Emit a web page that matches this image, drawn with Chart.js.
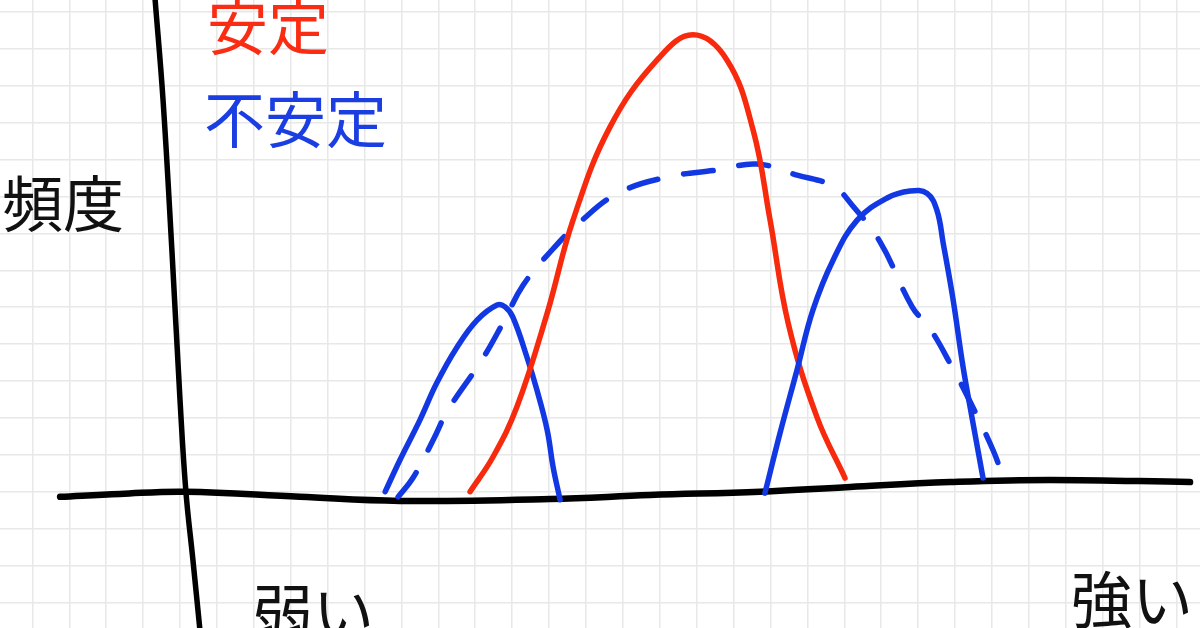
<!DOCTYPE html>
<html>
<head>
<meta charset="utf-8">
<script src="https://cdn.jsdelivr.net/npm/chart.js@4"></script>
<style>
  html, body { margin: 0; padding: 0; background: #fff; }
  #wrap { position: relative; width: 1200px; height: 628px; overflow: hidden; }
  .lbl {
    position: absolute;
    font-family: "Noto Sans CJK JP", "Noto Sans", sans-serif;
    font-size: 61px;
    line-height: 1;
    white-space: nowrap;
  }
</style>
</head>
<body>
<div id="wrap">
  <canvas id="chart"></canvas>
  <div class="lbl" style="left:207px; top:-7px; color:#fa2d14;">安定</div>
  <div class="lbl" style="left:204px; top:86px; color:#1a3ee2;">不安定</div>
  <div class="lbl" style="left:2px; top:170px; color:#111;">頻度</div>
  <div class="lbl" style="left:252px; top:579px; color:#111;">弱い</div>
  <div class="lbl" style="left:1071px; top:566px; color:#111;">強い</div>
</div>
<script>
// all values in grid squares, origin where the two hand-drawn axes cross

// red curve: 安定
const stableX = [7.86, 8.48, 9.13, 9.95, 10.65, 11.65, 12.93, 13.90, 14.82, 15.53, 15.99, 16.48, 17.26, 18.02];
const stableY = [0, 0.94, 2.30, 4.84, 7.36, 9.88, 11.70, 12.38, 11.70, 9.80, 7.36, 4.57, 2.02, 0.37];

// blue solid, left hump: 不安定
const weakX = [5.56, 5.96, 6.50, 6.96, 7.51, 8.05, 8.59, 8.81, 9.02, 9.40, 9.67, 9.95, 10.11, 10.30];
const weakY = [0, 0.86, 1.94, 2.95, 3.92, 4.65, 5.06, 5.01, 4.73, 3.65, 2.76, 1.67, 0.67, -0.22];

// blue solid, right hump
const strongX = [15.85, 16.26, 16.72, 17.15, 17.70, 18.35, 19.16, 19.78, 20.24, 20.51, 20.68, 20.95, 21.22, 21.46, 21.76];
const strongY = [-0.04, 1.59, 3.30, 4.92, 6.28, 7.36, 7.96, 8.15, 8.09, 7.63, 6.74, 5.20, 3.38, 2.02, 0.37];

// blue dashed envelope
const wideX = [5.91, 6.31, 6.86, 7.26, 8.18, 8.75, 9.30, 10.08, 10.84, 11.87, 13.22, 14.58, 15.64, 16.72, 17.70, 18.21, 18.97, 19.84, 20.33, 20.92, 21.36, 22.03, 22.30];
const wideY = [-0.14, 0.37, 1.40, 2.21, 3.57, 4.57, 5.60, 6.55, 7.31, 8.09, 8.53, 8.72, 8.88, 8.58, 8.28, 7.77, 6.77, 5.01, 4.41, 3.38, 2.54, 1.13, 0.40];

// hand-drawn axes
const axisHX = [-3.25, -1.63, 0.14, 3.25, 5.96, 10.03, 12.74, 15.72, 18.16, 20.87, 23.58, 27.37];
const axisHY = [-0.14, -0.06, 0, -0.14, -0.25, -0.20, -0.09, 0, 0.13, 0.26, 0.32, 0.26];
const axisVX = [-0.68, -0.46, -0.22, 0, 0.16, 0.35, 0.54];
const axisVY = [13.4, 10.62, 6.55, 2.49, 0, -1.85, -3.75];

// visible window of the grid paper
const xMin = -4.878, xMax = 27.64;
const yMin = -3.694, yMax = 13.325;

const pts = (xs, ys) => xs.map((x, i) => ({ x: x, y: ys[i] }));

const RED = '#f82a0e';
const BLUE = '#1238e4';

const ctx = document.getElementById('chart').getContext('2d');
new Chart(ctx, {
  type: 'line',
  data: {
    datasets: [
      {
        data: pts(axisHX, axisHY),
        borderColor: '#000', borderWidth: 6.5, tension: 0.4, order: 5
      },
      {
        data: pts(axisVX, axisVY),
        borderColor: '#000', borderWidth: 5.5, tension: 0.4, order: 5
      },
      {
        data: pts(wideX, wideY),
        borderColor: BLUE, borderWidth: 5.5, tension: 0.4,
        borderDash: [30, 26], order: 4
      },
      {
        data: pts(weakX, weakY),
        borderColor: BLUE, borderWidth: 5.5, tension: 0.4, order: 3
      },
      {
        data: pts(stableX, stableY),
        borderColor: RED, borderWidth: 5.5, tension: 0.4, order: 2
      },
      {
        data: pts(strongX, strongY),
        borderColor: BLUE, borderWidth: 5.5, tension: 0.4, order: 1
      }
    ]
  },
  options: {
    responsive: true,
    maintainAspectRatio: false,
    animation: false,
    clip: false,
    layout: { padding: 0 },
    datasets: {
      line: {
        pointRadius: 0,
        fill: false,
        borderCapStyle: 'round',
        borderJoinStyle: 'round'
      }
    },
    scales: {
      x: {
        type: 'linear',
        min: xMin, max: xMax,
        border: { display: false },
        grid: { color: '#e8e8e8', lineWidth: 1.5, drawTicks: false },
        ticks: { display: false, stepSize: 1, includeBounds: false }
      },
      y: {
        type: 'linear',
        min: yMin, max: yMax,
        border: { display: false },
        grid: { color: '#e8e8e8', lineWidth: 1.5, drawTicks: false },
        ticks: { display: false, stepSize: 1, includeBounds: false }
      }
    },
    plugins: {
      legend: { display: false },
      tooltip: { enabled: false }
    }
  }
});
</script>
</body>
</html>
